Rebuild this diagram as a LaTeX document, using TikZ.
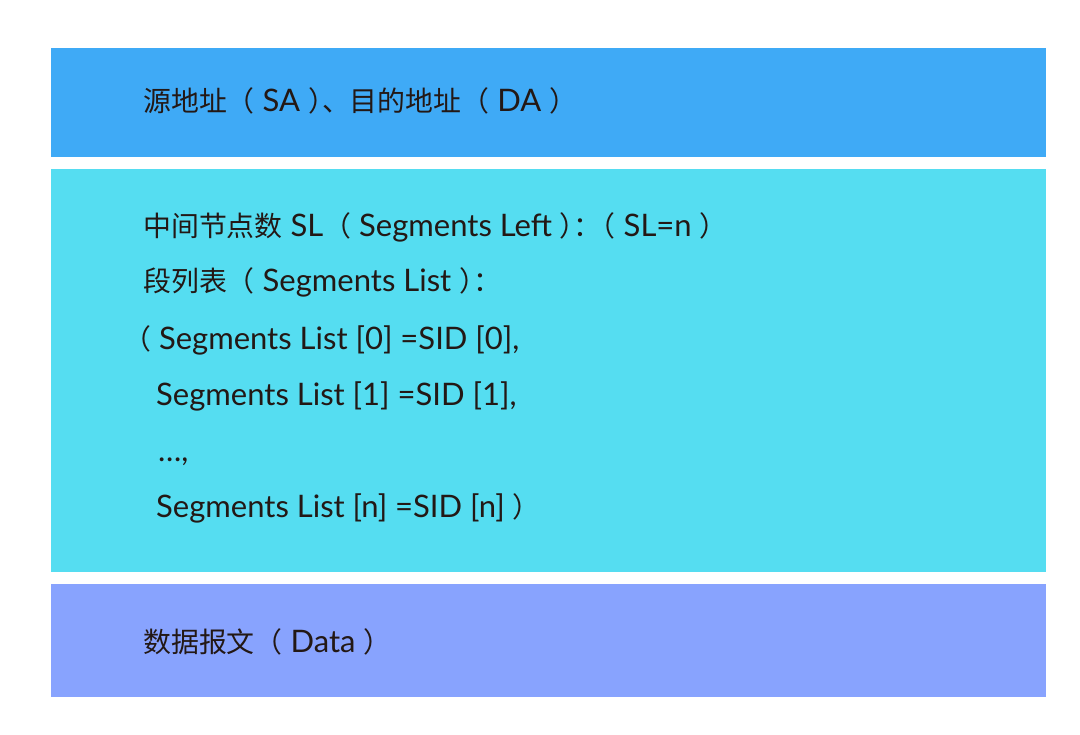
\documentclass[tikz,border=0pt]{standalone}
\usepackage{fontspec}
\setmainfont{Lato}
\newfontfamily\cjk[Scale=0.9]{Noto Sans CJK SC}
\usetikzlibrary{positioning}
\definecolor{addrblue}{HTML}{3FAAF6}
\definecolor{segcyan}{HTML}{55DDF1}
\definecolor{datablue}{HTML}{88A3FE}
\definecolor{inkdark}{HTML}{231815}
\newcommand\lpar{{\cjk （}}
\newcommand\rpar{{\cjk ）}}
\newcommand\halfback{\kern-.45em}
\tikzset{
    field/.style={fill=#1,draw=none,inner sep=0pt,anchor=north west,minimum width=995pt},
    txt/.style={text=inkdark,anchor=base west,inner sep=0pt,font=\fontsize{31}{35}\selectfont}
}
\begin{document}
\begin{tikzpicture}[x=1pt,y=-1pt]
        \useasboundingbox (0,0) rectangle (1080,735);
        \node[field=addrblue,minimum height=109pt] (addr) at (51,48) {};
        \node[field=segcyan,minimum height=403pt] (seg) at (51,169) {};
        \node[field=datablue,minimum height=113pt] (data) at (51,584) {};

        \node[txt] (sada) at (143,112) {{\cjk 源地址}\lpar{} SA \rpar\halfback{\cjk 、目的地址}\lpar{} DA \rpar};
        \node[txt] (sl) at (143,237) {{\cjk 中间节点数} SL\lpar{} Segments Left \rpar\halfback{\cjk ：}\halfback\lpar{} SL=n \rpar};
        \node[txt] (list) at (143,292) {{\cjk 段列表}\lpar{} Segments List \rpar\halfback{\cjk ：}};
        \node[txt] (sid0) at (123,350) {\lpar{} Segments List [0] =SID [0],};
        \node[txt] (sid1) at (156,406) {Segments List [1] =SID [1],};
        \node[txt] (dots) at (158,462) {…,};
        \node[txt] (sidn) at (156,518) {Segments List [n] =SID [n] \rpar};
        \node[txt] (payload) at (143,652) {{\cjk 数据报文}\lpar{} Data \rpar};
    \end{tikzpicture}
\end{document}
